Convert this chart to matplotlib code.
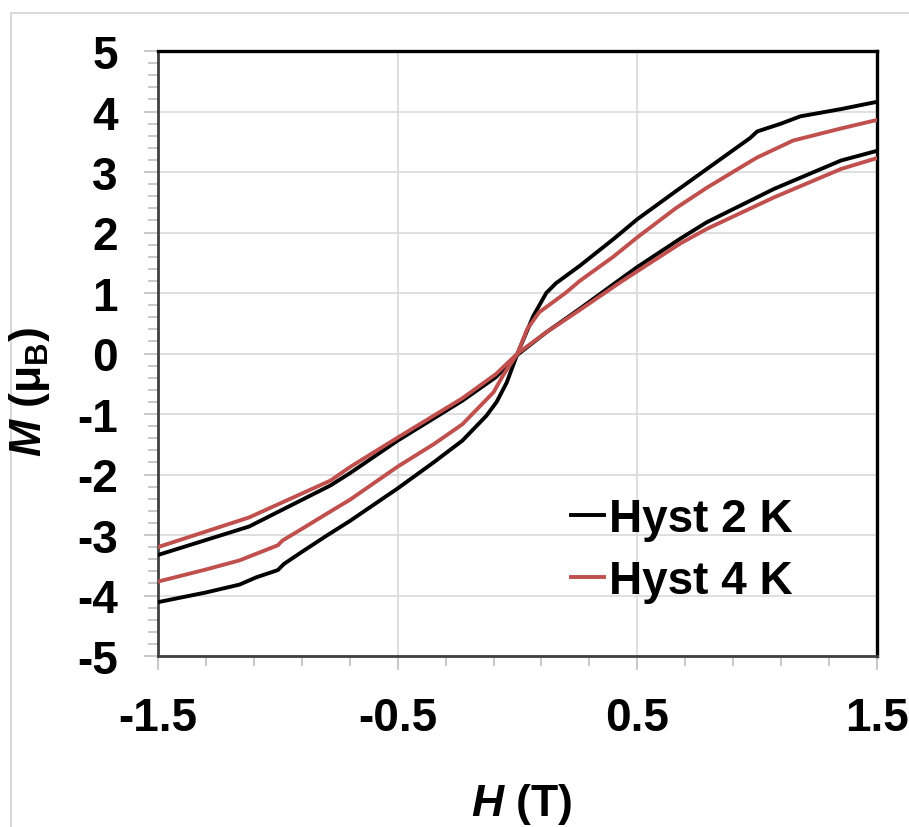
import matplotlib
matplotlib.use('Agg')
import matplotlib.pyplot as plt
import numpy as np
from matplotlib.ticker import FixedLocator
from matplotlib.lines import Line2D

plt.rcParams['font.family'] = ['Liberation Sans', 'DejaVu Sans']
plt.rcParams['font.weight'] = 'bold'
plt.rcParams['mathtext.fontset'] = 'custom'
plt.rcParams['mathtext.it'] = 'Liberation Sans:italic:bold'
plt.rcParams['mathtext.rm'] = 'Liberation Sans:bold'

# 2 K loop: outer S-shaped branch and inner branch
h_2k_outer = [-1.5, -1.3, -1.16, -1.09, -1.0, -0.975, -0.9, -0.8, -0.7, -0.5, -0.35, -0.23, -0.13,
              -0.087, -0.045, 0.0, 0.066, 0.12, 0.16, 0.26, 0.4, 0.5, 0.66, 0.79, 0.97, 1.0, 1.1,
              1.18, 1.35, 1.5]
m_2k_outer = [-4.11, -3.95, -3.82, -3.70, -3.58, -3.48, -3.28, -3.02, -2.77, -2.23, -1.80, -1.44,
              -1.03, -0.80, -0.48, 0.0, 0.62, 1.0, 1.16, 1.45, 1.89, 2.22, 2.68, 3.05, 3.56, 3.67,
              3.80, 3.92, 4.04, 4.16]
h_2k_inner = [-1.5, -1.12, -0.78, -0.7, -0.5, -0.23, -0.09, 0.0, 0.12, 0.26, 0.43, 0.5, 0.68, 0.79,
              1.07, 1.35, 1.5]
m_2k_inner = [-3.33, -2.86, -2.18, -1.98, -1.44, -0.78, -0.39, -0.02, 0.35, 0.74, 1.23, 1.43, 1.90,
              2.17, 2.72, 3.19, 3.35]

# 4 K loop
h_4k_outer = [-1.5, -1.3, -1.16, -1.0, -0.98, -0.9, -0.78, -0.7, -0.5, -0.35, -0.23, -0.1, -0.06,
              0.0, 0.04, 0.09, 0.2, 0.26, 0.4, 0.5, 0.66, 0.79, 0.97, 1.0, 1.15, 1.35, 1.5]
m_4k_outer = [-3.77, -3.57, -3.42, -3.17, -3.09, -2.90, -2.61, -2.42, -1.87, -1.50, -1.17, -0.64,
              -0.36, 0.0, 0.40, 0.68, 1.00, 1.20, 1.60, 1.92, 2.40, 2.74, 3.17, 3.24, 3.52, 3.72,
              3.86]
h_4k_inner = [-1.5, -1.12, -0.78, -0.7, -0.5, -0.23, -0.09, 0.0, 0.12, 0.26, 0.43, 0.5, 0.68, 0.79,
              1.07, 1.35, 1.5]
m_4k_inner = [-3.20, -2.71, -2.10, -1.88, -1.39, -0.74, -0.34, 0.0, 0.35, 0.72, 1.18, 1.36, 1.82,
              2.06, 2.58, 3.05, 3.23]

labels = ['Hyst 2 K', 'Hyst 4 K']
colors = ['black', '#c0504d']

fig = plt.figure(figsize=(9.09, 8.28), dpi=100)
ax = fig.add_axes([158/909, 1-657/828, 719/909, 605/828])

# light grey chart-area border (cropped on right/bottom)
fig.add_artist(Line2D([11/909, 11/909], [0, 1-14/828], color='#d9d9d9', lw=1.5))
fig.add_artist(Line2D([11/909, 1], [1-14/828, 1-14/828], color='#d9d9d9', lw=1.5))

ax.plot(h_2k_outer, m_2k_outer, color=colors[0], lw=2.8, label=labels[0], zorder=3)
ax.plot(h_2k_inner, m_2k_inner, color=colors[0], lw=2.8, zorder=3)
ax.plot(h_4k_outer, m_4k_outer, color=colors[1], lw=2.8, label=labels[1], zorder=4)
ax.plot(h_4k_inner, m_4k_inner, color=colors[1], lw=2.8, zorder=4)

ax.set_xlim(-1.5, 1.5)
ax.set_ylim(-5, 5)
ax.xaxis.set_major_locator(FixedLocator([-1.5, -0.5, 0.5, 1.5]))
ax.xaxis.set_minor_locator(FixedLocator(np.arange(-1.5, 1.51, 0.2)))
ax.yaxis.set_major_locator(FixedLocator(np.arange(-5, 6, 1)))
ax.yaxis.set_minor_locator(FixedLocator(np.arange(-5, 5.01, 0.2)))
ax.set_xticklabels(['-1.5', '-0.5', '0.5', '1.5'])
ax.set_yticklabels([str(v) for v in range(-5, 6)])

ax.grid(True, which='major', color='#d9d9d9', lw=1.2)
ax.set_axisbelow(True)
ax.tick_params(which='major', direction='out', length=10, width=1.2, color='#bfbfbf',
               labelsize=33, pad=19)
ax.tick_params(which='minor', direction='out', length=7, width=1.2, color='#bfbfbf')
for lab in ax.get_xticklabels() + ax.get_yticklabels():
    lab.set_fontweight('bold')

for s in ['top', 'right']:
    ax.spines[s].set_color('black')
    ax.spines[s].set_linewidth(2.4)
for s in ['left', 'bottom']:
    ax.spines[s].set_color('#404040')
    ax.spines[s].set_linewidth(2.0)

fig.text(30/909, 1-392/828, r'$\mathit{M}$ (μ$_\mathrm{B}$)', rotation=90, ha='center', va='center',
         fontsize=32, fontweight='bold')
fig.text(522/909, 1-805/828, r'$\mathit{H}$ (T)', ha='center', va='center',
         fontsize=32, fontweight='bold')

leg = ax.legend(loc='center left', bbox_to_anchor=((571-158)/719, (657-551)/605), frameon=False,
                handlelength=0.72, handletextpad=0.1, borderpad=0, borderaxespad=0,
                labelspacing=0.4, prop={'weight': 'bold', 'size': 33})

fig.savefig('out.png', dpi=100)
